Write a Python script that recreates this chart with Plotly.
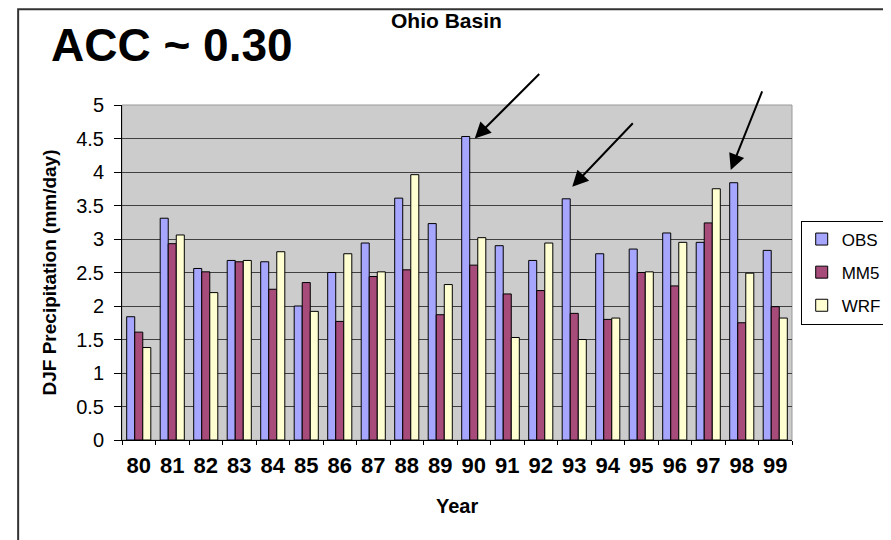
import plotly.graph_objects as go

years = ['80', '81', '82', '83', '84', '85', '86', '87', '88', '89',
         '90', '91', '92', '93', '94', '95', '96', '97', '98', '99']
obs = [1.84, 3.31, 2.56, 2.68, 2.66, 2.00, 2.50, 2.94, 3.61, 3.23,
       4.53, 2.90, 2.68, 3.60, 2.78, 2.85, 3.09, 2.95, 3.84, 2.83]
mm5 = [1.61, 2.93, 2.51, 2.66, 2.25, 2.35, 1.77, 2.44, 2.54, 1.87,
       2.61, 2.18, 2.23, 1.89, 1.80, 2.50, 2.30, 3.24, 1.75, 1.99]
wrf = [1.38, 3.06, 2.20, 2.68, 2.81, 1.92, 2.78, 2.51, 3.96, 2.32,
       3.02, 1.53, 2.94, 1.50, 1.82, 2.51, 2.95, 3.75, 2.49, 1.82]

series = [('OBS', obs, '#A6A6FF'), ('MM5', mm5, '#A64B7A'), ('WRF', wrf, '#FFFFD2')]

FONT = 'Arial, Liberation Sans, sans-serif'

fig = go.Figure()
for name, vals, color in series:
    fig.add_trace(go.Bar(
        x=years, y=vals, name=name, legendgroup=name,
        marker=dict(color=color, line=dict(color='black', width=1))
    ))

# the page adds an 8px body margin, so the figure is 8px smaller
fig.update_layout(
    width=883, height=532,
    margin=dict(l=114, r=99, t=97, b=100, autoexpand=False),
    paper_bgcolor='white', plot_bgcolor='#CCCCCC',
    barmode='group', bargap=0.28, bargroupgap=0,
    font=dict(family=FONT, color='black'),
    showlegend=True,
    legend=dict(x=1.013, xanchor='left', y=0.5, yanchor='middle',
                bgcolor='white', bordercolor='black', borderwidth=1,
                font=dict(size=17), tracegroupgap=8,
                itemwidth=30),
    xaxis=dict(type='category', range=[-0.5, 19.5], showgrid=False, showline=True,
               linecolor='black', linewidth=1, ticks='outside', tickson='boundaries',
               ticklen=4, tickcolor='black', tickangle=0, ticklabelstandoff=6,
               tickfont=dict(size=22, family=FONT, weight='bold'), automargin=False),
    yaxis=dict(range=[0, 5], dtick=0.5, showgrid=True, gridcolor='#404040',
               gridwidth=1, showline=True, linecolor='black', linewidth=1,
               ticks='outside', ticklen=7, tickcolor='black', ticklabelstandoff=6,
               tickfont=dict(size=20), zeroline=False, automargin=False),
)

# plot-area border (light top/right edges)
fig.add_shape(type='rect', xref='paper', yref='paper', x0=0, y0=0, x1=1, y1=1,
              line=dict(color='#999999', width=1), layer='below')

# outer frame (top and left)
fig.add_shape(type='path', xref='paper', yref='paper',
              path='M -0.155 -0.35 L -0.155 1.286 L 1.2 1.286',
              line=dict(color='#333333', width=2))

fig.add_annotation(text='<b>ACC ~ 0.30</b>', xref='paper', yref='paper',
                   x=0.0746, y=1.179, xanchor='center', yanchor='middle',
                   showarrow=False, font=dict(size=46))
fig.add_annotation(text='<b>Ohio Basin</b>', xref='paper', yref='paper',
                   x=0.484, y=1.252, xanchor='center', yanchor='middle',
                   showarrow=False, font=dict(size=21))
fig.add_annotation(text='<b>DJF Precipitation (mm/day)</b>', xref='paper', yref='paper',
                   x=-0.1075, y=0.5, xanchor='center', yanchor='middle',
                   textangle=-90, showarrow=False, font=dict(size=19))
fig.add_annotation(text='<b>Year</b>', xref='paper', yref='paper',
                   x=0.5, y=-0.197, xanchor='center', yanchor='middle',
                   showarrow=False, font=dict(size=20))

# arrows pointing to the wet winters
arrows = [('90', 4.5, 1, 66, -66), ('93', 3.78, -2, 62, -65), ('98', 4.03, -11, 32, -80)]
for cat, yv, xs, ax, ay in arrows:
    fig.add_annotation(x=years.index(cat), y=yv, xref='x', yref='y', xshift=xs, text='',
                       showarrow=True, ax=ax, ay=ay, arrowhead=2, arrowsize=1.6,
                       arrowwidth=2, arrowcolor='black')

fig.write_html('out.html')
